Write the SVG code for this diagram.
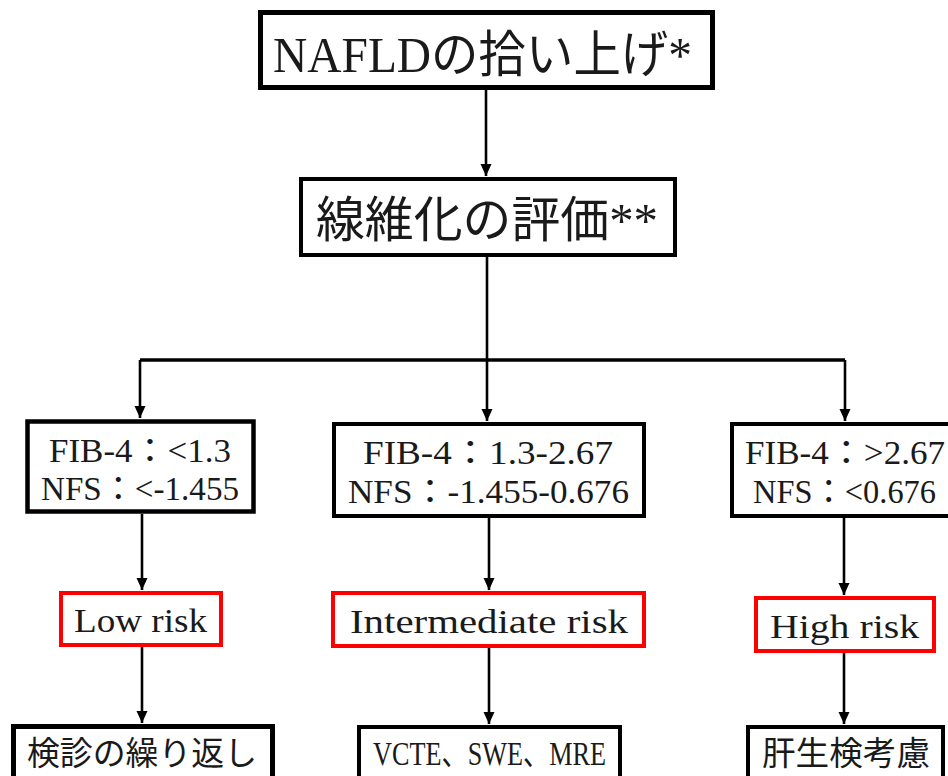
<svg xmlns="http://www.w3.org/2000/svg" width="948" height="776" viewBox="0 0 948 776">
<style>
.bg{fill:#ffffff}
.box{fill:#ffffff;stroke:#000000;stroke-width:4.5}
.risk{fill:#ffffff;stroke:#ff0000;stroke-width:4}
.t{font-family:"Liberation Serif","Noto Sans CJK JP",serif;fill:#1a1a1a}
.conn line,.conn path{stroke:#000000;stroke-width:2.6;fill:none}
.conn .h{stroke-width:3.5}
</style>
<defs>
<marker id="arr" markerUnits="userSpaceOnUse" markerWidth="12" markerHeight="12" viewBox="0 0 12 12" refX="12" refY="6" orient="auto">
<path d="M0,0.5 L12,6 L0,11.5 z" fill="#000000"/>
</marker>
</defs>
<rect class="bg" x="0" y="0" width="948" height="776"/>
<g id="connectors" class="conn">
<line x1="486" y1="90" x2="486" y2="176" marker-end="url(#arr)"/>
<line x1="487" y1="257" x2="487" y2="360"/>
<path class="h" d="M140,360 L845,360"/>
<line x1="140" y1="360" x2="140" y2="418" marker-end="url(#arr)"/>
<line x1="487" y1="360" x2="487" y2="421" marker-end="url(#arr)"/>
<line x1="845" y1="360" x2="845" y2="421" marker-end="url(#arr)"/>
<line x1="142" y1="514" x2="142" y2="590" marker-end="url(#arr)"/>
<line x1="489" y1="518" x2="489" y2="590" marker-end="url(#arr)"/>
<line x1="844" y1="518" x2="844" y2="595" marker-end="url(#arr)"/>
<line x1="142" y1="647" x2="142" y2="723" marker-end="url(#arr)"/>
<line x1="489" y1="648" x2="489" y2="724" marker-end="url(#arr)"/>
<line x1="844" y1="653" x2="844" y2="724" marker-end="url(#arr)"/>
</g>
<g id="n-pickup">
<rect class="box" x="260.5" y="12.5" width="452" height="75" style="stroke-width:5"/>
<text class="t" x="273" y="72" font-size="50" textLength="419" lengthAdjust="spacingAndGlyphs">NAFLDの拾い上げ*</text>
</g>
<g id="n-fibrosis">
<rect class="box" x="301" y="179" width="374" height="76" style="stroke-width:4"/>
<text class="t" x="316" y="237" font-size="49" textLength="342" lengthAdjust="spacingAndGlyphs">線維化の評価**</text>
</g>
<g id="n-fib-low">
<rect class="box" x="27.5" y="421.5" width="226" height="90"/>
<text class="t" x="49" y="462" font-size="33" textLength="182" lengthAdjust="spacingAndGlyphs">FIB-4：&lt;1.3</text>
<text class="t" x="41" y="500" font-size="33" textLength="198" lengthAdjust="spacingAndGlyphs">NFS：&lt;-1.455</text>
</g>
<g id="n-fib-mid">
<rect class="box" x="334" y="424" width="310" height="92" style="stroke-width:4"/>
<text class="t" x="363" y="464" font-size="33" textLength="250" lengthAdjust="spacingAndGlyphs">FIB-4：1.3-2.67</text>
<text class="t" x="348" y="503" font-size="33" textLength="281" lengthAdjust="spacingAndGlyphs">NFS：-1.455-0.676</text>
</g>
<g id="n-fib-high">
<rect class="box" x="732" y="424" width="222" height="92" style="stroke-width:4"/>
<text class="t" x="745" y="464" font-size="33" textLength="200" lengthAdjust="spacingAndGlyphs">FIB-4：&gt;2.67</text>
<text class="t" x="753" y="503" font-size="33" textLength="183" lengthAdjust="spacingAndGlyphs">NFS：&lt;0.676</text>
</g>
<g id="n-low">
<rect class="risk" x="61" y="593" width="160" height="52"/>
<text class="t" x="74" y="632" font-size="33" textLength="133" lengthAdjust="spacingAndGlyphs">Low risk</text>
</g>
<g id="n-intermediate">
<rect class="risk" x="333" y="593" width="311" height="53"/>
<text class="t" x="350" y="633" font-size="33" textLength="278" lengthAdjust="spacingAndGlyphs">Intermediate risk</text>
</g>
<g id="n-high">
<rect class="risk" x="756" y="598" width="178" height="53"/>
<text class="t" x="770" y="638" font-size="33" textLength="149" lengthAdjust="spacingAndGlyphs">High risk</text>
</g>
<g id="n-repeat">
<rect class="box" x="13.5" y="726.5" width="259" height="70" style="stroke-width:5"/>
<text class="t" x="27" y="765" font-size="33" textLength="230" lengthAdjust="spacingAndGlyphs">検診の繰り返し</text>
</g>
<g id="n-elasto">
<rect class="box" x="359" y="727" width="261" height="70" style="stroke-width:4"/>
<text class="t" x="373" y="765" font-size="33" textLength="233" lengthAdjust="spacingAndGlyphs">VCTE、SWE、MRE</text>
</g>
<g id="n-biopsy">
<rect class="box" x="748" y="727" width="195" height="70" style="stroke-width:4"/>
<text class="t" x="762" y="765" font-size="33" textLength="168" lengthAdjust="spacingAndGlyphs">肝生検考慮</text>
</g>
</svg>
